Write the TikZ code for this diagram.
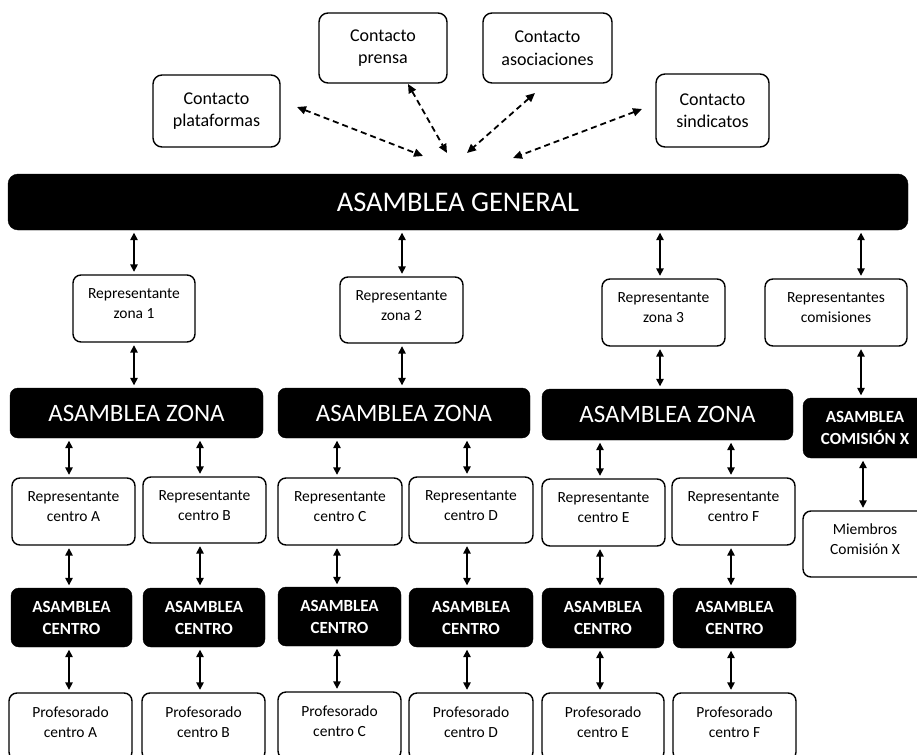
\documentclass[tikz,border=0pt]{standalone}
\usepackage{fontspec}
\setmainfont{Carlito}
\usetikzlibrary{arrows.meta}
\begin{document}
\begin{tikzpicture}[x=1pt,y=-1pt,
  corners/.style args={#1:#2:#3:#4}{minimum width=#2pt-#1pt, minimum height=#4pt-#3pt, at={({(#1+#2)/2},{(#3+#4)/2})}},
  wbox/.style={draw=black, line width=1.4pt, rounded corners=8pt, fill=white, align=center, inner sep=0pt, font=\fontsize{15.5}{20}\selectfont, text depth=9pt},
  cbox/.style={draw=black, line width=1.4pt, rounded corners=9pt, fill=white, align=center, inner sep=0pt, font=\fontsize{18}{22.5}\selectfont},
  bbox/.style={draw=black, fill=black, rounded corners=8pt, text=white, align=center, inner sep=0pt},
  bigtext/.style={font=\fontsize{28.5}{30}\selectfont},
  zonetext/.style={font=\fontsize{25}{27}\selectfont},
  smallbold/.style={font=\bfseries\fontsize{17}{22}\selectfont},
  arr/.style={{Triangle[length=7.5pt,width=7.5pt]}-{Triangle[length=7.5pt,width=7.5pt]}, line width=1.5pt, shorten <=2.5pt, shorten >=2.5pt},
  dasharr/.style={{Triangle[length=9pt,width=8pt]}-{Triangle[length=9pt,width=8pt]}, line width=1.8pt, dash pattern=on 6pt off 4pt}
]
\useasboundingbox (0,0) rectangle (917,754);
\fill[white] (0,0) rectangle (917,754);
\clip (0,0) rectangle (917,754);

% contact boxes
\node[cbox, corners=153:280:75:147] (plat) {Contacto\\plataformas};
\node[cbox, corners=319:447:13:83] (prensa) {Contacto\\prensa};
\node[cbox, corners=483:612:13:83] (asoc) {Contacto\\asociaciones};
\node[cbox, corners=656:769:74:147] (sind) {Contacto\\sindicatos};

% dashed arrow ends
\coordinate (dp1) at (297,107); \coordinate (dp2) at (423,156);
\coordinate (dr1) at (408,84);  \coordinate (dr2) at (447,153);
\coordinate (da1) at (535,93);  \coordinate (da2) at (467,153);
\coordinate (ds1) at (642,109); \coordinate (ds2) at (513,158);
\draw[dasharr] (dp1) -- (dp2);
\draw[dasharr] (dr1) -- (dr2);
\draw[dasharr] (da1) -- (da2);
\draw[dasharr] (ds1) -- (ds2);

% general assembly
\node[bbox, bigtext, rounded corners=10pt, corners=8:908:174:230] (gen) {ASAMBLEA GENERAL};

% zone representatives
\node[wbox, corners=73:195:275:342] (rz1) {Representante\\zona 1};
\node[wbox, corners=340:463:277:343] (rz2) {Representante\\zona 2};
\node[wbox, corners=602:725:279:346] (rz3) {Representante\\zona 3};
\node[wbox, corners=765:907:279:346] (rcom) {Representantes\\comisiones};

% zone assemblies
\node[bbox, zonetext, corners=10:263:388:438] (az1) {ASAMBLEA ZONA};
\node[bbox, zonetext, corners=278:530:388:438] (az2) {ASAMBLEA ZONA};
\node[bbox, zonetext, corners=542:793:389:440] (az3) {ASAMBLEA ZONA};
\node[bbox, smallbold, corners=803:927:398:458] (acom) {ASAMBLEA\\COMISIÓN X};

% centre representatives
\node[wbox, corners=12:135:478:545] (rcA) {Representante\\centro A};
\node[wbox, corners=143:266:477:543] (rcB) {Representante\\centro B};
\node[wbox, corners=278:402:478:545] (rcC) {Representante\\centro C};
\node[wbox, corners=409:533:477:543] (rcD) {Representante\\centro D};
\node[wbox, corners=542:665:479:546] (rcE) {Representante\\centro E};
\node[wbox, corners=672:795:478:545] (rcF) {Representante\\centro F};
\node[wbox, corners=803:927:511:577] (mcom) {Miembros\\Comisión X};

% centre assemblies
\node[bbox, smallbold, corners=11:132:588:647] (acA) {ASAMBLEA\\CENTRO};
\node[bbox, smallbold, corners=143:265:588:647] (acB) {ASAMBLEA\\CENTRO};
\node[bbox, smallbold, corners=278:401:587:646] (acC) {ASAMBLEA\\CENTRO};
\node[bbox, smallbold, corners=409:533:588:647] (acD) {ASAMBLEA\\CENTRO};
\node[bbox, smallbold, corners=542:664:588:648] (acE) {ASAMBLEA\\CENTRO};
\node[bbox, smallbold, corners=673:796:588:648] (acF) {ASAMBLEA\\CENTRO};

% teachers
\node[wbox, corners=9:132:693:760] (pA) {Profesorado\\centro A};
\node[wbox, corners=142:265:693:760] (pB) {Profesorado\\centro B};
\node[wbox, corners=278:401:692:759] (pC) {Profesorado\\centro C};
\node[wbox, corners=409:533:693:760] (pD) {Profesorado\\centro D};
\node[wbox, corners=542:664:693:760] (pE) {Profesorado\\centro E};
\node[wbox, corners=673:796:693:760] (pF) {Profesorado\\centro F};

% column coordinates
\coordinate (k1) at (134,0); \coordinate (k2) at (402,0);
\coordinate (k3) at (660,0); \coordinate (k4) at (861,0);
\coordinate (k5) at (863,0);
\coordinate (cA) at (69,0);  \coordinate (cB) at (200,0);
\coordinate (cC) at (337,0); \coordinate (cD) at (467,0);
\coordinate (cE) at (600,0); \coordinate (cF) at (731,0);

% arrows
\draw[arr] (gen.south -| k1) -- (rz1.north -| k1);
\draw[arr] (gen.south -| k2) -- (rz2.north -| k2);
\draw[arr] (gen.south -| k3) -- (rz3.north -| k3);
\draw[arr] (gen.south -| k4) -- (rcom.north -| k4);
\draw[arr] (rz1.south -| k1) -- (az1.north -| k1);
\draw[arr] (rz2.south -| k2) -- (az2.north -| k2);
\draw[arr] (rz3.south -| k3) -- (az3.north -| k3);
\draw[arr] (rcom.south -| k4) -- (acom.north -| k4);
\draw[arr] (acom.south -| k5) -- (mcom.north -| k5);

\draw[arr] (az1.south -| cA) -- (rcA.north -| cA);
\draw[arr] (az1.south -| cB) -- (rcB.north -| cB);
\draw[arr] (az2.south -| cC) -- (rcC.north -| cC);
\draw[arr] (az2.south -| cD) -- (rcD.north -| cD);
\draw[arr] (az3.south -| cE) -- (rcE.north -| cE);
\draw[arr] (az3.south -| cF) -- (rcF.north -| cF);

\draw[arr] (rcA.south -| cA) -- (acA.north -| cA);
\draw[arr] (rcB.south -| cB) -- (acB.north -| cB);
\draw[arr] (rcC.south -| cC) -- (acC.north -| cC);
\draw[arr] (rcD.south -| cD) -- (acD.north -| cD);
\draw[arr] (rcE.south -| cE) -- (acE.north -| cE);
\draw[arr] (rcF.south -| cF) -- (acF.north -| cF);

\draw[arr] (acA.south -| cA) -- (pA.north -| cA);
\draw[arr] (acB.south -| cB) -- (pB.north -| cB);
\draw[arr] (acC.south -| cC) -- (pC.north -| cC);
\draw[arr] (acD.south -| cD) -- (pD.north -| cD);
\draw[arr] (acE.south -| cE) -- (pE.north -| cE);
\draw[arr] (acF.south -| cF) -- (pF.north -| cF);
\end{tikzpicture}
\end{document}
